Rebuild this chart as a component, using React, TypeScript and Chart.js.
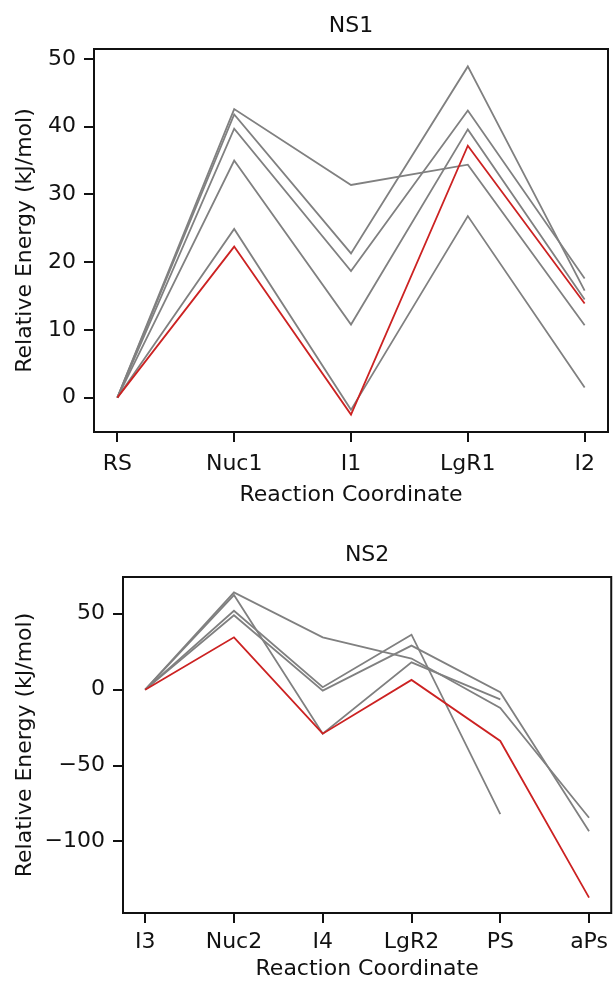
import React, { useEffect, useRef } from 'react';
import { Chart, registerables } from 'chart.js';

Chart.register(...registerables);

// ---------- data ----------
const ns1Labels = ['RS', 'Nuc1', 'I1', 'LgR1', 'I2'];
const ns1Red = [0, 22.3, -2.5, 37.2, 13.9];
const ns1Grey1 = [0, 42.6, 31.4, 34.4, 10.7];
const ns1Grey2 = [0, 41.8, 21.3, 48.9, 15.8];
const ns1Grey3 = [0, 39.7, 18.7, 42.4, 17.6];
const ns1Grey4 = [0, 35.0, 10.8, 39.6, 14.5];
const ns1Grey5 = [0, 24.9, -1.8, 26.8, 1.5];
const ns1YTicks = [0, 10, 20, 30, 40, 50];

const ns2Labels = ['I3', 'Nuc2', 'I4', 'LgR2', 'PS', 'aPs'];
const ns2Red = [0, 34.5, -29, 6.4, -33.8, -137];
const ns2Grey1 = [0, 64.1, 34.5, 20.5, -12, -84.4];
const ns2Grey2 = [0, 62.3, -29, 18, -6.4, null];
const ns2Grey3 = [0, 52, 1.6, 36.2, -82, null];
const ns2Grey4 = [0, 49, -0.6, 29, -1.7, -93.2];
const ns2YTicks = [-100, -50, 0, 50];

const RED = '#cc2222';
const GREY = '#808080';
const INK = '#111111';
const FONT = 'DejaVu Sans';
const FS = 22;

const framePlugin = {
  id: 'frame',
  afterDatasetsDraw(chart: any) {
    const { ctx, chartArea } = chart;
    const { left, top, right, bottom } = chartArea;
    ctx.save();
    ctx.strokeStyle = INK;
    ctx.lineWidth = 2;
    ctx.strokeRect(left, top, right - left, bottom - top);
    ctx.restore();
  },
};

const axTitlePlugin = {
  id: 'axTitle',
  afterDraw(chart: any, _args: any, opts: any) {
    const { ctx, chartArea } = chart;
    ctx.save();
    ctx.fillStyle = INK;
    ctx.font = `${FS}px "${FONT}"`;
    ctx.textAlign = 'center';
    ctx.textBaseline = 'middle';
    ctx.fillText(opts.text, (chartArea.left + chartArea.right) / 2, opts.y);
    ctx.restore();
  },
};

function toPoints(arr: (number | null)[]) {
  return arr.map((y, i) => ({ x: i, y }));
}

function fmt(v: number) {
  return v < 0 ? '\u2212' + Math.abs(v) : String(v);
}

interface Cfg {
  title: string;
  titleY: number;
  labels: string[];
  red: (number | null)[];
  greys: (number | null)[][];
  yTicks: number[];
  yMin: number;
  yMax: number;
  top: number;
  yWidth: number;
  xHeight: number;
  rightPad: number;
  xMargin: number;
  xTickPad: number;
  xTitlePad: number;
}

function makeChart(canvas: HTMLCanvasElement, c: Cfg) {
  const line = (arr: (number | null)[], color: string) => ({
    data: toPoints(arr),
    borderColor: color,
    borderWidth: 1.8,
    pointRadius: 0,
    tension: 0,
    spanGaps: false,
  });
  const datasets: any[] = [line(c.red, RED), ...c.greys.map((g) => line(g, GREY))];
  const n = c.labels.length;
  const tickFont = { family: FONT, size: FS, lineHeight: 1.2 };
  return new Chart(canvas, {
    type: 'line',
    data: { datasets },
    plugins: [framePlugin, axTitlePlugin],
    options: {
      animation: false,
      responsive: false,
      events: [],
      layout: { autoPadding: false, padding: { left: 0, right: c.rightPad, top: c.top, bottom: 0 } },
      plugins: {
        legend: { display: false },
        tooltip: { enabled: false },
        title: { display: false },
        axTitle: { text: c.title, y: c.titleY },
      },
      scales: {
        x: {
          type: 'linear',
          min: -c.xMargin * (n - 1),
          max: (n - 1) * (1 + c.xMargin),
          afterBuildTicks: (scale: any) => {
            scale.ticks = c.labels.map((_, i) => ({ value: i }));
          },
          afterFit: (scale: any) => {
            scale.height = c.xHeight;
          },
          ticks: {
            color: INK,
            font: tickFont,
            padding: c.xTickPad,
            maxRotation: 0,
            autoSkip: false,
            callback: (v: any) => c.labels[v as number] ?? '',
          },
          grid: { display: true, drawOnChartArea: false, drawTicks: true, tickLength: 10, color: INK, lineWidth: 2 },
          border: { display: false },
          title: {
            display: true,
            text: 'Reaction Coordinate',
            color: INK,
            font: tickFont,
            padding: { top: 0, bottom: c.xTitlePad },
          },
        },
        y: {
          type: 'linear',
          min: c.yMin,
          max: c.yMax,
          afterBuildTicks: (scale: any) => {
            scale.ticks = c.yTicks.map((v) => ({ value: v }));
          },
          afterFit: (scale: any) => {
            scale.width = c.yWidth;
          },
          ticks: {
            color: INK,
            font: tickFont,
            padding: 8,
            autoSkip: false,
            callback: (v: any) => fmt(v as number),
          },
          grid: { display: true, drawOnChartArea: false, drawTicks: true, tickLength: 10, color: INK, lineWidth: 2 },
          border: { display: false },
          title: {
            display: true,
            text: 'Relative Energy (kJ/mol)',
            color: INK,
            font: tickFont,
            padding: { top: 12, bottom: 0 },
          },
        },
      },
    } as any,
  });
}

const TOP_H = 515;
const BOT_H = 982 - TOP_H;

export default function App() {
  const topRef = useRef<HTMLCanvasElement>(null);
  const botRef = useRef<HTMLCanvasElement>(null);

  useEffect(() => {
    const c1 = makeChart(topRef.current!, {
      title: 'NS1',
      titleY: 26,
      labels: ns1Labels,
      red: ns1Red,
      greys: [ns1Grey1, ns1Grey2, ns1Grey3, ns1Grey4, ns1Grey5],
      yTicks: ns1YTicks,
      yMin: -5.07,
      yMax: 51.47,
      top: 49,
      yWidth: 94,
      xHeight: TOP_H - 432,
      rightPad: 6,
      xMargin: 0.05,
      xTickPad: 9,
      xTitlePad: 7,
    });
    const c2 = makeChart(botRef.current!, {
      title: 'NS2',
      titleY: 555 - TOP_H,
      labels: ns2Labels,
      red: ns2Red,
      greys: [ns2Grey1, ns2Grey2, ns2Grey3, ns2Grey4],
      yTicks: ns2YTicks,
      yMin: -147.1,
      yMax: 74.2,
      top: 577 - TOP_H,
      yWidth: 123,
      xHeight: BOT_H - (913 - TOP_H),
      rightPad: 1,
      xMargin: 0.05,
      xTickPad: 6,
      xTitlePad: 0,
    });
    return () => {
      c1.destroy();
      c2.destroy();
    };
  }, []);

  return (
    <div style={{ position: 'absolute', left: 0, top: 0, width: 614, height: 982, background: '#fff' }}>
      <canvas ref={topRef} width={614} height={TOP_H} style={{ display: 'block', width: 614, height: TOP_H }} />
      <canvas ref={botRef} width={614} height={BOT_H} style={{ display: 'block', width: 614, height: BOT_H }} />
    </div>
  );
}
